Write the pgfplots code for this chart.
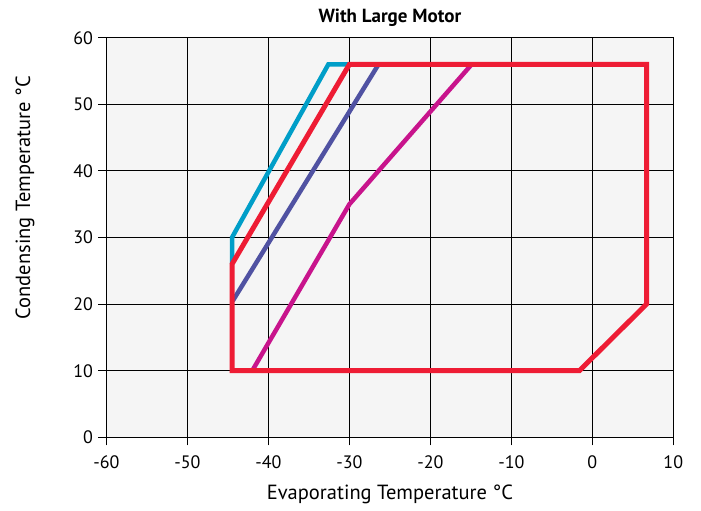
\documentclass[border=0pt]{standalone}
\usepackage{fontspec}
\setmainfont{PT Sans}
\usepackage{pgfplots}
\pgfplotsset{compat=1.18}
\definecolor{cy}{RGB}{0,158,200}
\definecolor{rd}{RGB}{238,28,52}
\definecolor{bl}{RGB}{80,82,162}
\definecolor{mg}{RGB}{200,20,140}
\definecolor{bg}{RGB}{245,245,245}
\begin{document}
\begin{tikzpicture}[x=1pt,y=1pt]
\path[use as bounding box] (-106.5,-73.7) rectangle (594.5,437.3);
\begin{axis}[
  at={(0,0)}, anchor=south west,
  scale only axis, width=566.8pt, height=399.6pt,
  xmin=-60, xmax=10, ymin=0, ymax=60,
  xtick={-60,-50,-40,-30,-20,-10,0,10},
  xticklabels={-60,-50,-40,-30,-20,-10,0,10},
  ytick={0,10,20,30,40,50,60},
  yticklabels={0,10,20,30,40,50,60},
  xtick pos=bottom, ytick pos=left,
  tick align=outside, major tick length=8pt,
  tick style={black, line width=1pt},
  grid=major, grid style={black, line width=1pt},
  axis line style={black, line width=1.3pt},
  axis background/.style={fill=bg},
  xticklabel style={font=\fontsize{18}{18}\selectfont, yshift=-7pt},
  yticklabel style={font=\fontsize{18}{18}\selectfont, xshift=-2pt},
  title={With Large Motor},
  title style={font=\bfseries\fontsize{19}{19}\selectfont, at={(axis description cs:0.5,1)}, anchor=center, yshift=14pt},
  xlabel={Evaporating Temperature °C},
  ylabel={Condensing Temperature °C},
  xlabel style={font=\fontsize{20.5}{20.5}\selectfont, at={(axis description cs:0.5,0)}, anchor=center, yshift=-57pt},
  ylabel style={font=\fontsize{20.5}{20.5}\selectfont, at={(axis description cs:-0.1438,0.6)}, anchor=center, rotate=0},
]
\addplot[cy, line width=4.5pt, line join=miter] coordinates {(-44.5,26) (-44.5,30) (-32.6,56) (-30,56)};
\addplot[mg, line width=4.5pt] coordinates {(-42.0,10) (-30,35) (-14.9,56)};
\addplot[bl, line width=4.5pt] coordinates {(-44.4,20.5) (-26.4,56)};
\addplot[rd, line width=5pt, line join=miter] coordinates {(-44.5,10) (-44.5,26) (-30,56) (6.7,56) (6.7,20) (-1.6,10) (-44.5,10)} -- cycle;
\end{axis}
\end{tikzpicture}
\end{document}
